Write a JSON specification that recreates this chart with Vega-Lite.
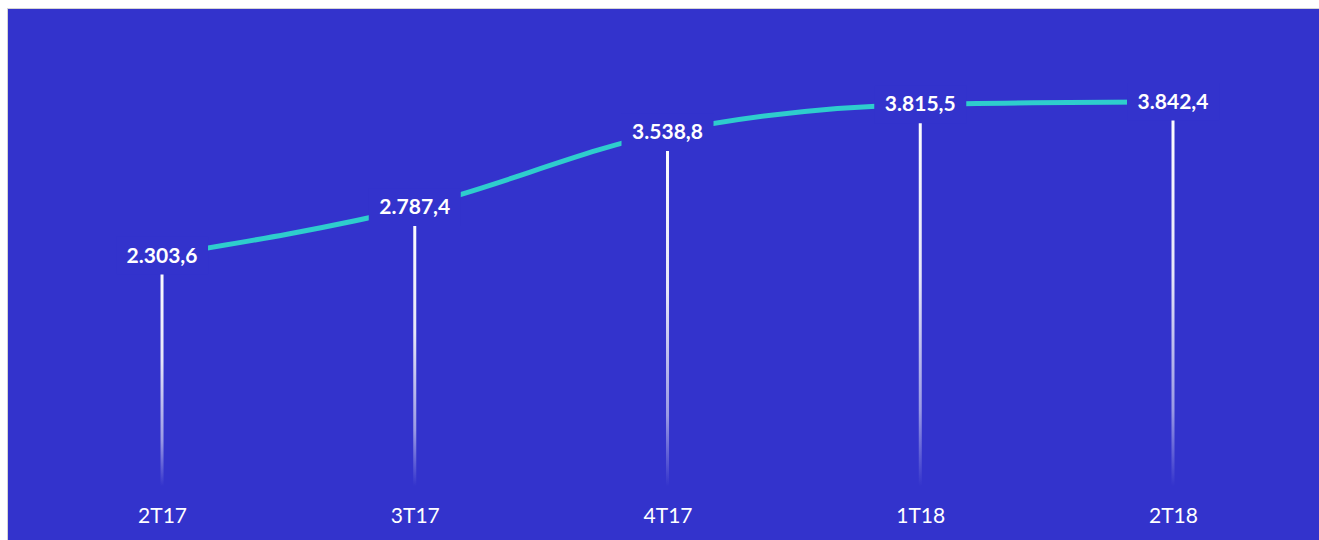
{
  "$schema": "https://vega.github.io/schema/vega-lite/v6.json",
  "width": 1319,
  "height": 540,
  "autosize": {"type": "fit", "contains": "padding"},
  "padding": {"left": 7, "top": 8, "right": 0, "bottom": 0},
  "background": "#FFFFFF",
  "config": {
    "view": {"fill": "#3333CC", "stroke": "#D4D4D4", "strokeWidth": 1},
    "font": "Lato",
    "locale": {"number": {"decimal": ",", "thousands": ".", "grouping": [3], "currency": ["", "€"]}}
  },
  "data": {
    "values": [
      {"periodo": "2T17", "valor": 2303.6},
      {"periodo": "3T17", "valor": 2787.4},
      {"periodo": "4T17", "valor": 3538.8},
      {"periodo": "1T18", "valor": 3815.5},
      {"periodo": "2T18", "valor": 3842.4}
    ]
  },
  "encoding": {
    "x": {
      "field": "periodo",
      "type": "ordinal",
      "sort": null,
      "scale": {"type": "point", "padding": 0.5955, "align": 0.515},
      "axis": {
        "title": null,
        "domain": false,
        "ticks": false,
        "grid": false,
        "labelAngle": 0,
        "labelColor": "#FFFFFF",
        "labelFont": "Lato",
        "labelFontSize": 21,
        "labelFontWeight": "normal",
        "labelBaseline": "middle",
        "labelPadding": 0,
        "offset": -24
      }
    },
    "y": {
      "field": "valor",
      "type": "quantitative",
      "scale": {"domain": [-540, 4780], "nice": false, "zero": false},
      "axis": null
    }
  },
  "layer": [
    {
      "mark": {
        "type": "bar",
        "width": 3,
        "color": {
          "gradient": "linear",
          "x1": 0, "y1": 0, "x2": 0, "y2": 1,
          "stops": [
            {"offset": 0, "color": "#FFFFFF"},
            {"offset": 0.45, "color": "#E6E6F8"},
            {"offset": 0.8, "color": "#9A9AE4"},
            {"offset": 1, "color": "#3333CC"}
          ]
        }
      },
      "encoding": {"y2": {"datum": 0}}
    },
    {
      "mark": {"type": "line", "interpolate": "monotone", "color": "#2ECDCD", "strokeWidth": 5, "strokeCap": "butt"}
    },
    {
      "mark": {
        "type": "point",
        "shape": "M-1,-0.41H1V0.41H-1Z",
        "size": 8464,
        "filled": true,
        "opacity": 1,
        "color": "#3333CC",
        "strokeWidth": 0
      }
    },
    {
      "mark": {
        "type": "text",
        "color": "#FFFFFF",
        "font": "Lato",
        "fontSize": 21,
        "fontWeight": "bold",
        "baseline": "middle",
        "align": "center",
        "dy": 1
      },
      "encoding": {"text": {"field": "valor", "type": "quantitative", "format": ",.1f"}}
    }
  ]
}
